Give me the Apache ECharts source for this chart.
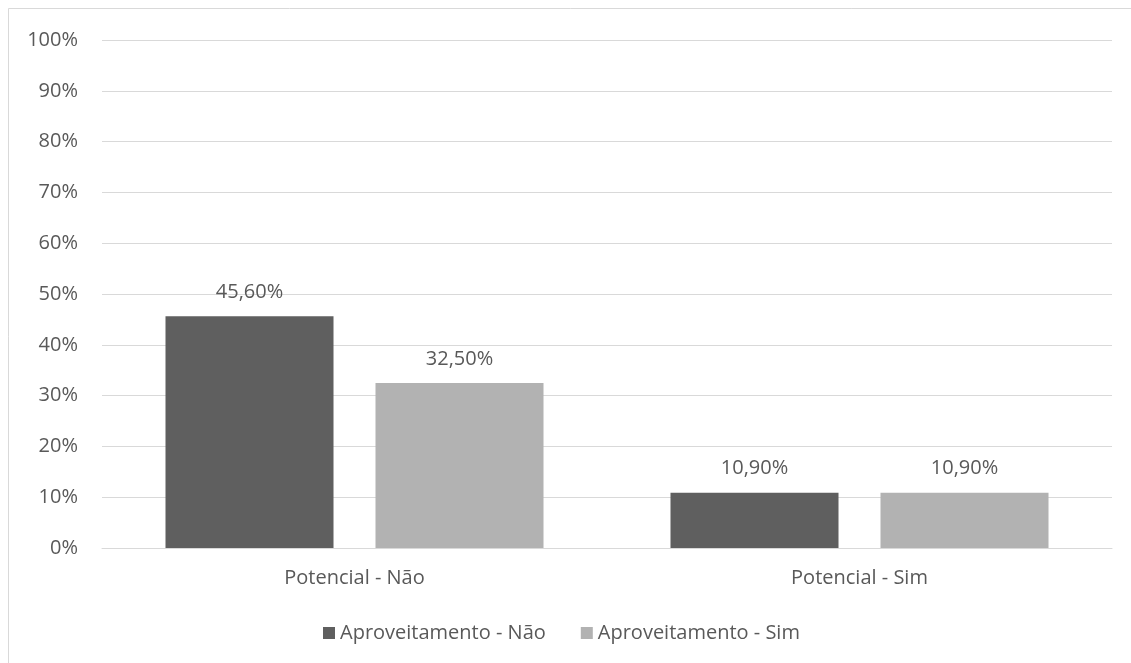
<!DOCTYPE html>
<html>
<head>
<meta charset="utf-8">
<script src="https://cdn.jsdelivr.net/npm/echarts@6/dist/echarts.min.js"></script>
<style>
  html, body { margin: 0; padding: 0; background: #fff; }
  #chart { width: 1131px; height: 663px; }
</style>
</head>
<body>
<div id="chart"></div>
<script>
// Categories and series values (percent)
const categories = ['Potencial - Não', 'Potencial - Sim'];
const seriesNames = ['Aproveitamento - Não', 'Aproveitamento - Sim'];
const aproveitamentoNao = [45.6, 10.9];
const aproveitamentoSim = [32.5, 10.9];
const yTicks = [0, 10, 20, 30, 40, 50, 60, 70, 80, 90, 100];

const FONT = '"Open Sans", "Noto Sans", sans-serif';
const TEXT = '#595959';
const SIZE = 20;

function pct(v) {
  return v.toFixed(2).replace('.', ',') + '%';
}

const chart = echarts.init(document.getElementById('chart'), null, { renderer: 'canvas' });

chart.setOption({
  animation: false,
  backgroundColor: '#ffffff',
  textStyle: { fontFamily: FONT, color: TEXT },
  graphic: [{
    type: 'rect',
    shape: { x: 8.5, y: 8.5, width: 1200, height: 800 },
    style: { fill: 'none', stroke: '#d9d9d9', lineWidth: 1 },
    silent: true
  }],
  grid: { left: 102, right: 19, top: 40, bottom: 115, containLabel: false },
  legend: {
    data: seriesNames,
    left: 318,
    top: 618,
    itemWidth: 12,
    itemHeight: 12,
    itemGap: 35,
    icon: 'rect',
    textStyle: { fontFamily: FONT, fontSize: SIZE, color: TEXT, padding: [0, 0, 0, 0] }
  },
  xAxis: {
    type: 'category',
    data: categories,
    axisLine: { lineStyle: { color: '#d9d9d9', width: 1 } },
    axisTick: { show: false },
    axisLabel: { fontFamily: FONT, fontSize: SIZE, color: TEXT, margin: 20 }
  },
  yAxis: {
    type: 'value',
    min: yTicks[0],
    max: yTicks[yTicks.length - 1],
    interval: 10,
    axisLine: { show: false },
    axisTick: { show: false },
    splitLine: { lineStyle: { color: '#d9d9d9', width: 1 } },
    axisLabel: {
      fontFamily: FONT, fontSize: SIZE, color: TEXT, margin: 24,
      formatter: v => v + '%'
    }
  },
  series: [
    {
      name: seriesNames[0],
      type: 'bar',
      data: aproveitamentoNao,
      barWidth: 168,
      barGap: '25%',
      itemStyle: { color: '#5f5f5f' },
      label: {
        show: true, position: 'top', distance: 14,
        fontFamily: FONT, fontSize: SIZE, color: TEXT,
        formatter: p => pct(p.value)
      }
    },
    {
      name: seriesNames[1],
      type: 'bar',
      data: aproveitamentoSim,
      barWidth: 168,
      barGap: '25%',
      itemStyle: { color: '#b2b2b2' },
      label: {
        show: true, position: 'top', distance: 14,
        fontFamily: FONT, fontSize: SIZE, color: TEXT,
        formatter: p => pct(p.value)
      }
    }
  ]
});
</script>
</body>
</html>
